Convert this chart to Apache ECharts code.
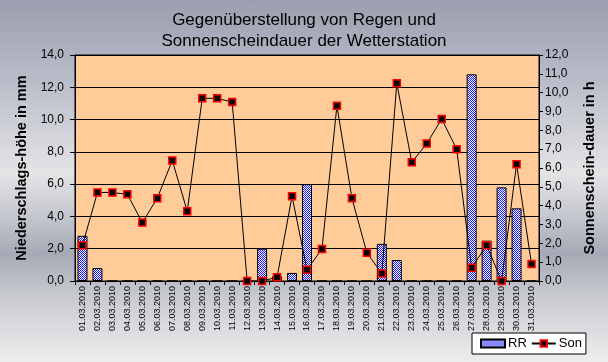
<!DOCTYPE html>
<html>
<head>
<meta charset="utf-8">
<script src="https://cdn.jsdelivr.net/npm/echarts@6/dist/echarts.min.js"></script>
<style>
html,body{margin:0;padding:0;}
#c{width:608px;height:362px;background:linear-gradient(to bottom,#9a9eae 0%,#b6b9c6 20%,#e4e4e6 48%,#c4c6ce 60%,#a6aab6 70%,#c8cad0 82%,#eeeeee 100%);}
</style>
</head>
<body>
<div id="c"></div>
<script>
var categories = ["01.03.2010","02.03.2010","03.03.2010","04.03.2010","05.03.2010","06.03.2010","07.03.2010","08.03.2010","09.03.2010","10.03.2010","11.03.2010","12.03.2010","13.03.2010","14.03.2010","15.03.2010","16.03.2010","17.03.2010","18.03.2010","19.03.2010","20.03.2010","21.03.2010","22.03.2010","23.03.2010","24.03.2010","25.03.2010","26.03.2010","27.03.2010","28.03.2010","29.03.2010","30.03.2010","31.03.2010"];
var rrValues = [2.8,0.8,0,0,0,0,0,0,0,0,0,0,2.0,0.3,0.5,6.0,0,0,0,0,2.3,1.3,0,0,0,0,12.8,2.5,5.8,4.5,0];
var sonValues = [1.9,4.7,4.7,4.6,3.1,4.4,6.4,3.7,9.7,9.7,9.5,0,0,0.2,4.5,0.6,1.7,9.3,4.4,1.5,0.4,10.5,6.3,7.3,8.6,7.0,0.7,1.9,0,6.2,0.9];
var leftTicks = {min:0, max:14, interval:2};
var rightTicks = {min:0, max:12, interval:1};

var pc = document.createElement('canvas');
pc.width = 2; pc.height = 2;
var g = pc.getContext('2d');
g.fillStyle = '#ffffff'; g.fillRect(0,0,2,2);
g.fillStyle = '#1414ff'; g.fillRect(0,0,1,1); g.fillRect(1,1,1,1);

function fmt(v){ return v.toFixed(1).replace('.', ','); }
var FF = 'Liberation Sans, Arial, sans-serif';

var chart = echarts.init(document.getElementById('c'), null, {renderer:'canvas'});
chart.setOption({
  backgroundColor: 'transparent',
  animation: false,
  textStyle: {fontFamily: FF},
  title: {
    text: 'Gegenüberstellung von Regen und\nSonnenscheindauer der Wetterstation',
    left: 'center', top: 5,
    textStyle: {fontSize: 17, fontWeight: 'normal', color: '#000', lineHeight: 21, fontFamily: FF}
  },
  legend: {
    left: 472, top: 333,
    backgroundColor: '#fff', borderColor: '#000', borderWidth: 1,
    padding: [4, 4, 4, 8], itemGap: 4, itemWidth: 24, itemHeight: 8,
    textStyle: {fontSize: 13, color: '#000', fontFamily: FF, padding: [0, 0, 0, -2]},
    data: [{name: 'RR', icon: 'rect'}, {name: 'Son'}]
  },
  grid: {
    left: 75, right: 69, top: 55, bottom: 81,
    show: true, backgroundColor: '#ffcc99', borderColor: '#000', borderWidth: 1
  },
  xAxis: {
    type: 'category', data: categories, boundaryGap: true,
    axisLine: {lineStyle: {color: '#000', width: 1}},
    axisTick: {show: true, interval: 0, length: 4, lineStyle: {color: '#000'}},
    axisLabel: {interval: 0, rotate: 90, fontSize: 9, color: '#000', margin: 5, fontFamily: FF}
  },
  yAxis: [{
    type: 'value', min: leftTicks.min, max: leftTicks.max, interval: leftTicks.interval,
    name: 'Niederschlags-höhe in mm', nameLocation: 'middle', nameRotate: 90, nameGap: 32,
    nameTextStyle: {fontSize: 14.5, fontWeight: 'bold', color: '#000', fontFamily: FF},
    axisLine: {show: true, lineStyle: {color: '#000'}},
    axisTick: {show: true, length: 5, lineStyle: {color: '#000'}},
    splitLine: {show: true, lineStyle: {color: '#000', width: 1}},
    axisLabel: {formatter: fmt, fontSize: 12, color: '#000', margin: 11, fontFamily: FF}
  }, {
    type: 'value', position: 'right', min: rightTicks.min, max: rightTicks.max, interval: rightTicks.interval,
    name: 'Sonnenschein-dauer in h', nameLocation: 'middle', nameRotate: 90, nameGap: 43,
    nameTextStyle: {fontSize: 14.5, fontWeight: 'bold', color: '#000', fontFamily: FF},
    axisLine: {show: true, lineStyle: {color: '#000'}},
    axisTick: {show: true, length: 4, lineStyle: {color: '#000'}},
    splitLine: {show: false},
    axisLabel: {formatter: fmt, fontSize: 12, color: '#000', margin: 6, fontFamily: FF}
  }],
  series: [{
    name: 'RR', type: 'bar', yAxisIndex: 0, data: rrValues, barWidth: 10,
    itemStyle: {color: {image: pc, repeat: 'repeat'}, borderColor: '#000', borderWidth: 1}
  }, {
    name: 'Son', type: 'line', yAxisIndex: 1, data: sonValues,
    symbol: 'rect', symbolSize: 7, showAllSymbol: true,
    lineStyle: {color: '#000', width: 1},
    itemStyle: {color: '#000', borderColor: '#ff0000', borderWidth: 1.5}
  }]
});
</script>
</body>
</html>
